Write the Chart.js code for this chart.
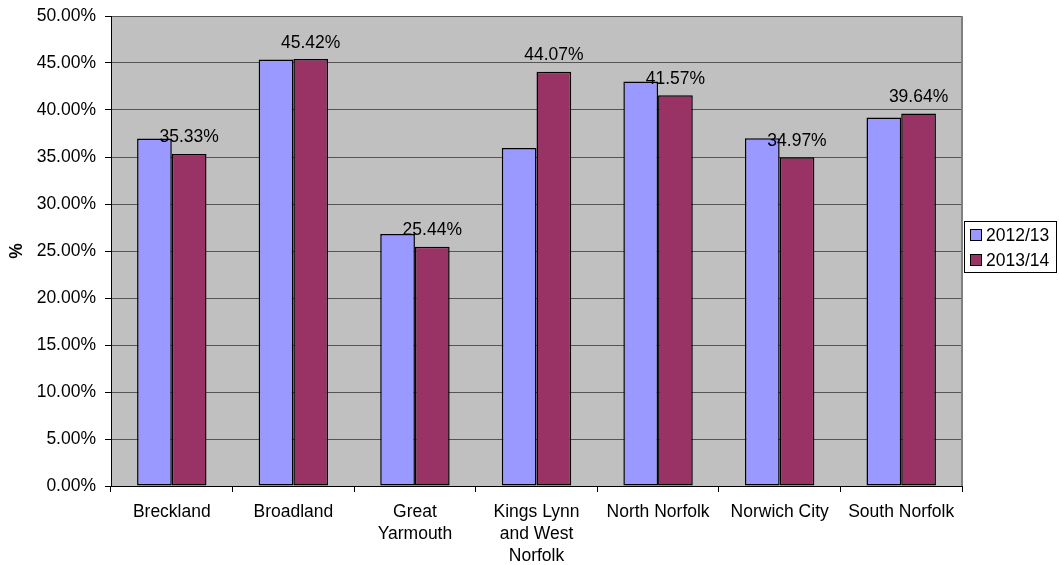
<!DOCTYPE html>
<html>
<head>
<meta charset="utf-8">
<script src="https://cdn.jsdelivr.net/npm/chart.js@4"></script>
<style>
  html, body { margin: 0; padding: 0; background: #ffffff; }
  #wrap { width: 1059px; height: 565px; }
</style>
</head>
<body>
<div id="wrap"><canvas id="c" width="1059" height="565"></canvas></div>
<script>
const categories = [
  ['Breckland'],
  ['Broadland'],
  ['Great', 'Yarmouth'],
  ['Kings Lynn', 'and West', 'Norfolk'],
  ['North Norfolk'],
  ['Norwich City'],
  ['South Norfolk']
];
const seriesNames = ['2012/13', '2013/14'];
const values2012 = [36.96, 45.36, 26.80, 35.96, 43.02, 36.99, 39.19];
const values2013 = [35.33, 45.42, 25.44, 44.07, 41.57, 34.97, 39.64];
const yTicks = [0, 5, 10, 15, 20, 25, 30, 35, 40, 45, 50];

const FONT = '"Liberation Sans", Arial, sans-serif';
const FS = 17.5;

const plotBg = {
  id: 'plotBg',
  beforeDraw(chart) {
    const { ctx, chartArea: a } = chart;
    ctx.save();
    ctx.fillStyle = '#c0c0c0';
    ctx.fillRect(a.left, a.top, a.right - a.left, a.bottom - a.top);
    ctx.restore();
  },
  afterDatasetsDraw(chart) {
    const { ctx, chartArea: a } = chart;
    ctx.save();
    ctx.strokeStyle = '#808080';
    ctx.lineWidth = 2;
    ctx.beginPath();
    ctx.moveTo(a.right, a.top);
    ctx.lineTo(a.right, a.bottom);
    ctx.stroke();
    // data labels for 2013/14
    const meta = chart.getDatasetMeta(1);
    ctx.fillStyle = '#000';
    ctx.font = FS + 'px ' + FONT;
    ctx.textAlign = 'center';
    ctx.textBaseline = 'alphabetic';
    meta.data.forEach((bar, i) => {
      const v = chart.data.datasets[1].data[i];
      ctx.fillText(v.toFixed(2) + '%', bar.x, bar.y - 11.5);
    });
    // legend
    const lx = 964, ly = 221, lw = 92, lh = 51;
    ctx.fillStyle = '#ffffff';
    ctx.fillRect(lx, ly, lw, lh);
    ctx.strokeStyle = '#000';
    ctx.lineWidth = 1;
    ctx.strokeRect(lx + 0.5, ly + 0.5, lw, lh);
    chart.data.datasets.forEach((ds, i) => {
      const cy = 235 + i * 25;
      ctx.fillStyle = ds.backgroundColor;
      ctx.fillRect(970, cy - 5.5, 11, 11);
      ctx.strokeStyle = '#000';
      ctx.strokeRect(970.5, cy - 5.5, 11, 11);
      ctx.fillStyle = '#000';
      ctx.textAlign = 'left';
      ctx.fillText(ds.label, 986, cy + 6.3);
    });
    ctx.restore();
  }
};

new Chart(document.getElementById('c'), {
  type: 'bar',
  data: {
    labels: categories,
    datasets: [
      {
        label: seriesNames[0],
        data: values2012,
        backgroundColor: '#9999ff',
        borderColor: '#000000',
        borderWidth: 1.5,
        borderSkipped: false
      },
      {
        label: seriesNames[1],
        data: values2013,
        backgroundColor: '#993366',
        borderColor: '#000000',
        borderWidth: 1.5,
        borderSkipped: false
      }
    ]
  },
  options: {
    responsive: false,
    devicePixelRatio: 1,
    animation: false,
    layout: { padding: { left: 0, right: 97, top: 16, bottom: 0 } },
    datasets: { bar: { categoryPercentage: 0.571, barPercentage: 1.0 } },
    plugins: {
      legend: { display: false },
      tooltip: { enabled: false }
    },
    scales: {
      x: {
        grid: {
          display: true,
          drawOnChartArea: false,
          drawTicks: true,
          tickLength: 6,
          tickColor: '#000000',
          offset: true
        },
        border: { display: true, color: '#000000', width: 1 },
        ticks: {
          color: '#000000',
          font: { family: FONT, size: FS, lineHeight: 1.257 },
          padding: 9,
          maxRotation: 0,
          minRotation: 0,
          autoSkip: false
        },
        afterFit(scale) { scale.height = 79; scale.paddingLeft = 0; scale.paddingRight = 0; }
      },
      y: {
        min: 0,
        max: 50,
        afterBuildTicks(scale) { scale.ticks = yTicks.map(v => ({ value: v })); },
        grid: {
          color: '#555555',
          lineWidth: 1,
          drawTicks: true,
          tickLength: 6,
          tickColor: '#000000'
        },
        border: { display: true, color: '#000000', width: 1 },
        ticks: {
          color: '#000000',
          font: { family: FONT, size: FS },
          padding: 9,
          callback: (v) => Number(v).toFixed(2) + '%'
        },
        title: {
          display: true,
          text: '%',
          color: '#000000',
          font: { family: FONT, size: FS, weight: 'bold' },
          padding: { top: 7, bottom: 0 }
        },
        afterFit(scale) { scale.width = 111; scale.paddingTop = 0; scale.paddingBottom = 0; }
      }
    }
  },
  plugins: [plotBg]
});
</script>
</body>
</html>
